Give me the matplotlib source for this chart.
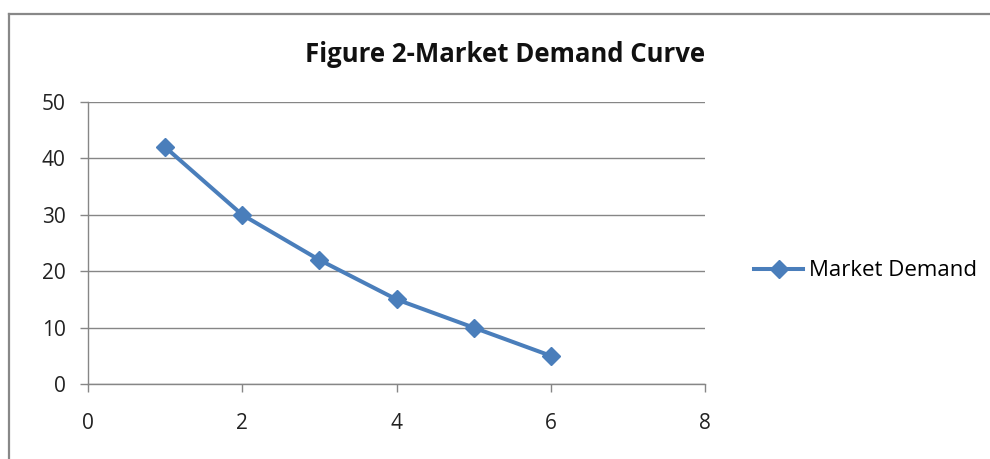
import matplotlib.pyplot as plt
from matplotlib.lines import Line2D

# data
price = [1, 2, 3, 4, 5, 6]
demand = [42, 30, 22, 15, 10, 5]
x_ticks = [0, 2, 4, 6, 8]
y_ticks = [0, 10, 20, 30, 40, 50]

plt.rcParams['font.family'] = ['Open Sans', 'DejaVu Sans']

fig = plt.figure(figsize=(9.9, 4.59), dpi=100)
ax = fig.add_axes([88/990, 1 - 384/459, (705 - 88)/990, (384 - 102)/459])

blue = '#4A7EBB'
grey = '#868686'

ax.plot(price, demand, color=blue, lw=2.9, marker='D', markersize=9.5,
        label='Market Demand', solid_joinstyle='round')

ax.set_xlim(0, 8)
ax.set_ylim(0, 50)
ax.set_xticks(x_ticks)
ax.set_yticks(y_ticks)
ax.grid(axis='y', color=grey, lw=1)
ax.set_axisbelow(True)

for s in ['top', 'right']:
    ax.spines[s].set_visible(False)
for s in ['left', 'bottom']:
    ax.spines[s].set_color(grey)
    ax.spines[s].set_linewidth(1)

ax.tick_params(axis='both', colors=grey, labelcolor='#222222', labelsize=15,
               length=6, width=1)
ax.tick_params(axis='y', pad=10)
ax.tick_params(axis='x', pad=15)

fig.text(505/990, 1 - 55/459, 'Figure 2-Market Demand Curve', ha='center',
         va='center', fontsize=18.5, fontweight='bold', color='#111111')

fig.legend(loc='center left', bbox_to_anchor=(743/990, 1 - 271/459), frameon=False,
           fontsize=16, handlelength=2.2, handletextpad=0.25, borderpad=0)

# chart frame (only top and left edges show in the crop)
fig.add_artist(Line2D([9/990, 1], [1 - 14/459, 1 - 14/459], color='#888888', lw=1.6,
                      transform=fig.transFigure))
fig.add_artist(Line2D([9/990, 9/990], [0, 1 - 14/459], color='#888888', lw=1.6,
                      transform=fig.transFigure))

fig.savefig('out.png', dpi=100)
